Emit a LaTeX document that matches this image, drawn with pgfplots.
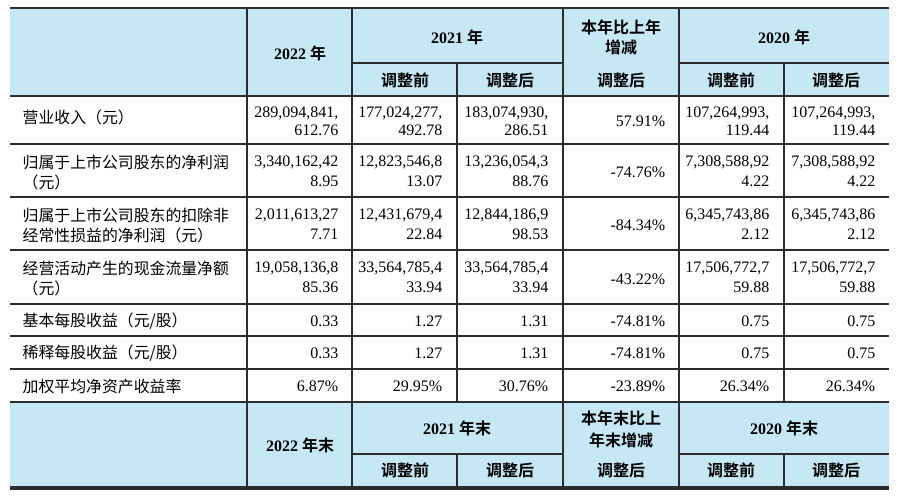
\documentclass[border=0pt]{standalone}
\usepackage{pgfplots}
\pgfplotsset{compat=1.18}
\usepackage{fontspec}
\setmainfont{Liberation Serif}
\newfontfamily\cjk{Noto Sans CJK SC}[BoldFont={Noto Sans CJK SC Bold}]

\definecolor{hdr}{RGB}{198,232,245}
\definecolor{rule}{RGB}{45,45,45}
\definecolor{ink}{RGB}{25,25,25}

\newcommand\bodyfont{\fontsize{12}{14}\selectfont}
\newcommand\cjkbody{\cjk\fontsize{11.9}{14}\selectfont}
% right-aligned number in a cell, centred header, left label
\newcommand\num[3]{\node[anchor=east, font=\bodyfont] at (axis cs:#1,#2) {#3};}
\newcommand\ctr[3]{\node[anchor=center, font=\bfseries\fontsize{12}{14}\selectfont] at (axis cs:#1,#2) {#3};}
\newcommand\lab[2]{\node[anchor=west, font=\cjkbody] at (axis cs:18,#1) {#2};}

\begin{document}
\begin{tikzpicture}
\begin{axis}[
    width=675pt, height=376.5pt,
    scale only axis,
    hide axis,
    xmin=0, xmax=900, ymin=0, ymax=502,
    y dir=reverse,
    clip=false,
    every node/.append style={text=ink, inner sep=0pt},
]
% background and header fills
\addplot[fill=white, draw=none] coordinates {(0,0)(900,0)(900,502)(0,502)} -- cycle;
\addplot[fill=hdr, draw=none] coordinates {(10,8)(889,8)(889,96)(10,96)} -- cycle;
\addplot[fill=hdr, draw=none] coordinates {(10,402)(889,402)(889,488)(10,488)} -- cycle;

% horizontal rules
\addplot[rule, line width=2.2pt] coordinates {(10,8)(889,8)};
\addplot[rule, line width=2.4pt] coordinates {(10,488)(889,488)};
\pgfplotsinvokeforeach{96,144,197,250,304,336,369,402}{
  \addplot[rule, line width=0.8pt] coordinates {(10,#1)(889,#1)};
}
\addplot[rule, line width=0.8pt] coordinates {(352,63)(563,63)};
\addplot[rule, line width=0.8pt] coordinates {(679,63)(889,63)};
\addplot[rule, line width=0.8pt] coordinates {(352,454)(563,454)};
\addplot[rule, line width=0.8pt] coordinates {(679,454)(889,454)};

% vertical rules
\pgfplotsinvokeforeach{247,352,563,679}{
  \addplot[rule, line width=0.8pt] coordinates {(#1,9)(#1,487)};
}
\pgfplotsinvokeforeach{457,784}{
  \addplot[rule, line width=0.8pt] coordinates {(#1,63)(#1,402)};
  \addplot[rule, line width=0.8pt] coordinates {(#1,454)(#1,487)};
}

% top header
\ctr{300}{53}{2022 {\cjk 年}}
\ctr{457}{37}{2021 {\cjk 年}}
\ctr{621}{27}{\cjk 本年比上年}
\ctr{621}{47}{\cjk 增减}
\ctr{784}{37}{2020 {\cjk 年}}
\ctr{405}{80}{\cjk 调整前}
\ctr{510}{80}{\cjk 调整后}
\ctr{621}{80}{\cjk 调整后}
\ctr{731}{80}{\cjk 调整前}
\ctr{836}{80}{\cjk 调整后}

% bottom header
\ctr{300}{445}{2022 {\cjk 年末}}
\ctr{457}{428}{2021 {\cjk 年末}}
\ctr{621}{418}{\cjk 本年末比上}
\ctr{621}{440}{\cjk 年末增减}
\ctr{784}{428}{2020 {\cjk 年末}}
\ctr{405}{470}{\cjk 调整前}
\ctr{510}{470}{\cjk 调整后}
\ctr{621}{470}{\cjk 调整后}
\ctr{731}{470}{\cjk 调整前}
\ctr{836}{470}{\cjk 调整后}

% row labels
\lab{117}{营业收入（元）}
\lab{162}{归属于上市公司股东的净利润}
\lab{182}{（元）}
\lab{215}{归属于上市公司股东的扣除非}
\lab{235}{经常性损益的净利润（元）}
\lab{268}{经营活动产生的现金流量净额}
\lab{288}{（元）}
\lab{321}{基本每股收益（元/股）}
\lab{353}{稀释每股收益（元/股）}
\lab{386}{加权平均净资产收益率}

% row 1
\num{343}{113}{289,094,841,}  \num{343}{130}{612.76}
\num{447}{113}{177,024,277,}  \num{447}{130}{492.78}
\num{553}{113}{183,074,930,}  \num{553}{130}{286.51}
\num{670}{121}{57.91\%}
\num{774}{113}{107,264,993,}  \num{774}{130}{119.44}
\num{880}{113}{107,264,993,}  \num{880}{130}{119.44}
% row 2
\num{343}{162}{3,340,162,42}  \num{343}{181}{8.95}
\num{447}{162}{12,823,546,8}  \num{447}{181}{13.07}
\num{553}{162}{13,236,054,3}  \num{553}{181}{88.76}
\num{670}{172}{-74.76\%}
\num{774}{162}{7,308,588,92}  \num{774}{181}{4.22}
\num{880}{162}{7,308,588,92}  \num{880}{181}{4.22}
% row 3
\num{343}{215}{2,011,613,27}  \num{343}{234}{7.71}
\num{447}{215}{12,431,679,4}  \num{447}{234}{22.84}
\num{553}{215}{12,844,186,9}  \num{553}{234}{98.53}
\num{670}{225}{-84.34\%}
\num{774}{215}{6,345,743,86}  \num{774}{234}{2.12}
\num{880}{215}{6,345,743,86}  \num{880}{234}{2.12}
% row 4
\num{343}{268}{19,058,136,8}  \num{343}{287}{85.36}
\num{447}{268}{33,564,785,4}  \num{447}{287}{33.94}
\num{553}{268}{33,564,785,4}  \num{553}{287}{33.94}
\num{670}{279}{-43.22\%}
\num{774}{268}{17,506,772,7}  \num{774}{287}{59.88}
\num{880}{268}{17,506,772,7}  \num{880}{287}{59.88}
% row 5
\num{343}{321}{0.33} \num{447}{321}{1.27} \num{553}{321}{1.31}
\num{670}{321}{-74.81\%} \num{774}{321}{0.75} \num{880}{321}{0.75}
% row 6
\num{343}{353}{0.33} \num{447}{353}{1.27} \num{553}{353}{1.31}
\num{670}{353}{-74.81\%} \num{774}{353}{0.75} \num{880}{353}{0.75}
% row 7
\num{343}{386}{6.87\%} \num{447}{386}{29.95\%} \num{553}{386}{30.76\%}
\num{670}{386}{-23.89\%} \num{774}{386}{26.34\%} \num{880}{386}{26.34\%}
\end{axis}
\end{tikzpicture}
\end{document}
